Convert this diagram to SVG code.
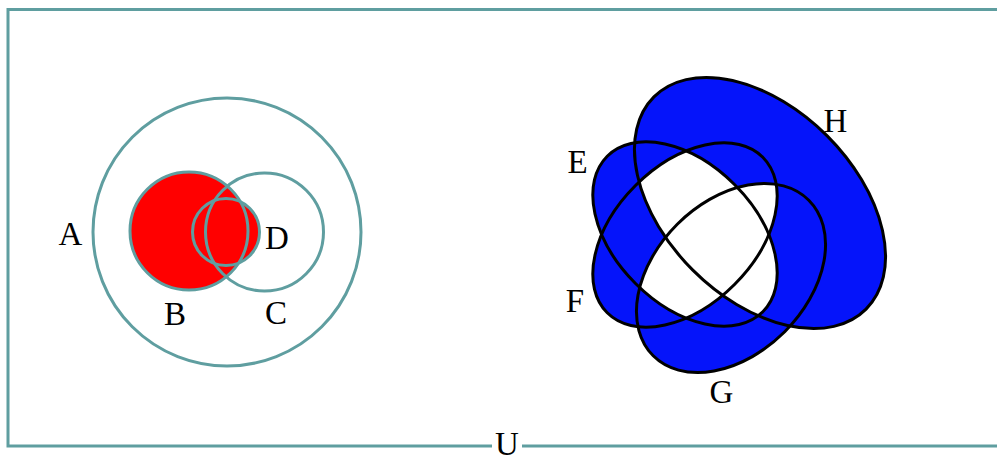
<svg xmlns="http://www.w3.org/2000/svg" xmlns:xlink="http://www.w3.org/1999/xlink" width="997" height="459" viewBox="0 0 997 459">
  <style>
    .lbl { font-family: "Liberation Serif", "Times New Roman", serif; font-size: 33px; fill: #000; text-anchor: middle; }
    .teal { fill: none; stroke: #5f9ea0; stroke-width: 3; }
    .blk { fill: none; stroke: #000; stroke-width: 3; }
    .red { fill: #ff0000; stroke: none; }
    .blue { fill: #0514fa; stroke: none; }
  </style>
  <defs>
    <ellipse id="eE" cx="685" cy="234" rx="110" ry="70" transform="rotate(45 685 234)"/>
    <ellipse id="eF" cx="685" cy="235" rx="110" ry="70" transform="rotate(-45 685 235)"/>
    <ellipse id="eG" cx="731" cy="278" rx="110" ry="76" transform="rotate(-45 731 278)"/>
    <ellipse id="eH" cx="760" cy="203" rx="150" ry="95" transform="rotate(45 760 203)"/>
    <clipPath id="cE"><use href="#eE"/></clipPath>
    <clipPath id="cF"><use href="#eF"/></clipPath>
    <clipPath id="cG"><use href="#eG"/></clipPath>
    <clipPath id="cH"><use href="#eH"/></clipPath>
  </defs>

  <!-- universe -->
  <g id="set-U">
    <rect x="8" y="9.5" width="1000" height="436.5" class="teal"/>
    <rect x="492" y="434" width="30" height="25" fill="#fff"/>
    <text class="lbl" x="507" y="455">U</text>
  </g>

  <!-- left diagram fills -->
  <g id="fills-left">
    <circle cx="189" cy="231" r="59" class="red"/>
    <circle cx="226" cy="232" r="33.5" class="red"/>
  </g>
  <g id="set-A">
    <circle cx="227" cy="232" r="134" class="teal"/>
    <text class="lbl" x="70.5" y="245">A</text>
  </g>
  <g id="set-B">
    <circle cx="189" cy="231" r="59" class="teal"/>
    <text class="lbl" x="175" y="325">B</text>
  </g>
  <g id="set-C">
    <circle cx="264.5" cy="232" r="59" class="teal"/>
    <text class="lbl" x="276" y="324">C</text>
  </g>
  <g id="set-D">
    <circle cx="226" cy="232" r="33.5" class="teal"/>
    <text class="lbl" x="277" y="249">D</text>
  </g>

  <!-- right diagram fills -->
  <g id="fills-right">
    <use href="#eH" class="blue"/>
    <use href="#eE" class="blue"/>
    <use href="#eF" class="blue"/>
    <use href="#eG" class="blue"/>
    <g clip-path="url(#cE)"><g clip-path="url(#cF)">
      <use href="#eG" fill="#fff"/><use href="#eH" fill="#fff"/>
    </g></g>
    <g clip-path="url(#cG)"><g clip-path="url(#cH)">
      <use href="#eE" fill="#fff"/><use href="#eF" fill="#fff"/>
    </g></g>
  </g>
  <g id="set-E">
    <use href="#eE" class="blk"/>
    <text class="lbl" x="577.5" y="173">E</text>
  </g>
  <g id="set-F">
    <use href="#eF" class="blk"/>
    <text class="lbl" x="575" y="312">F</text>
  </g>
  <g id="set-G">
    <use href="#eG" class="blk"/>
    <text class="lbl" x="721.5" y="403">G</text>
  </g>
  <g id="set-H">
    <use href="#eH" class="blk"/>
    <text class="lbl" x="835.5" y="132">H</text>
  </g>
</svg>
